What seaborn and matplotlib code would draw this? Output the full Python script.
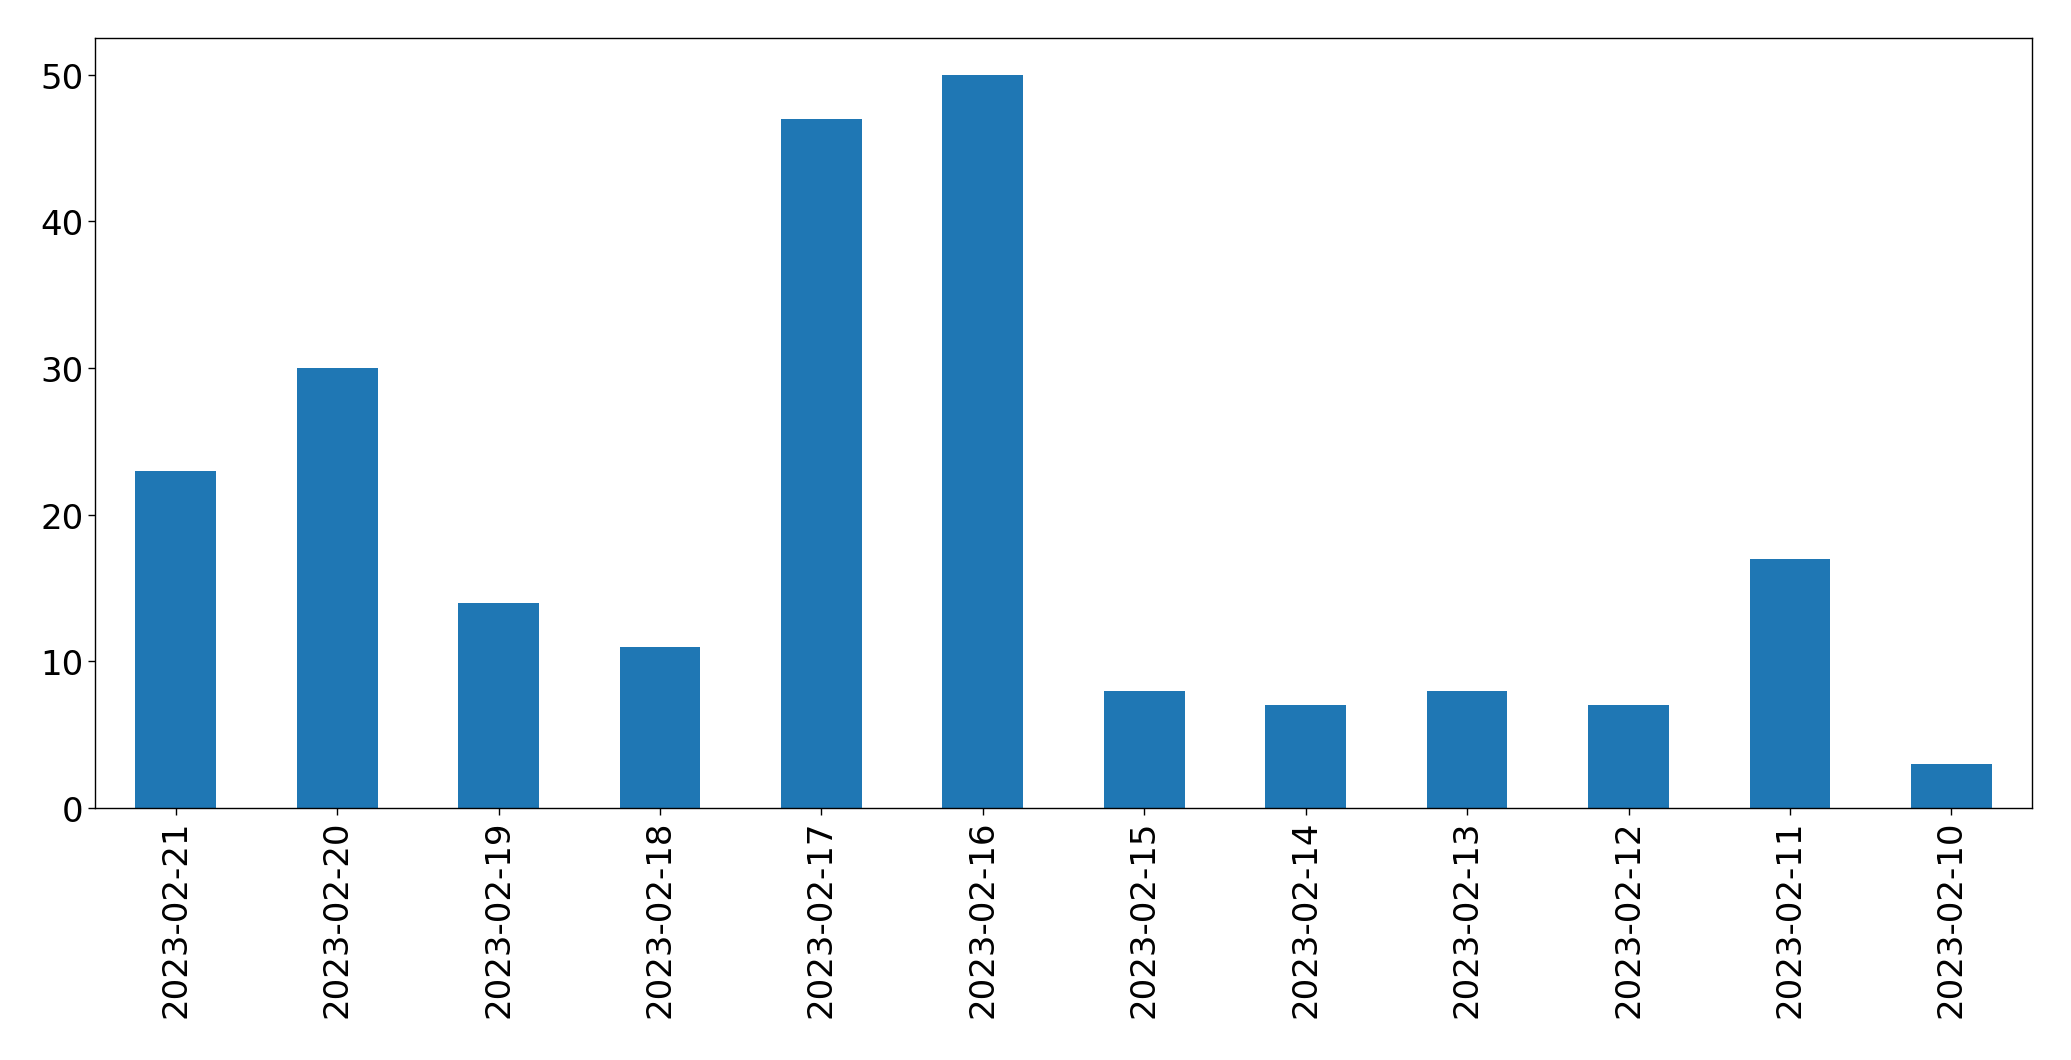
import matplotlib
matplotlib.use("Agg")
import matplotlib.pyplot as plt
import seaborn as sns
import pandas as pd

# data
dates = ["2023-02-21", "2023-02-20", "2023-02-19", "2023-02-18", "2023-02-17", "2023-02-16",
         "2023-02-15", "2023-02-14", "2023-02-13", "2023-02-12", "2023-02-11", "2023-02-10"]
counts = [23, 30, 14, 11, 47, 50, 8, 7, 8, 7, 17, 3]

df = pd.DataFrame({"date": dates, "count": counts})

sns.set_style("white")
plt.rcParams['font.family'] = ['DejaVu Sans']

fig = plt.figure(figsize=(20.71, 10.609), dpi=100)
ax = fig.add_axes([0.0459, 0.2375, 0.9353, 0.7258])

sns.barplot(data=df, x="date", y="count", color="#1f77b4", saturation=1,
            width=0.5, ax=ax, order=dates, linewidth=0, edgecolor="none")

ax.set_xlim(-0.5, len(dates) - 0.5)
ax.set_ylim(0, max(counts) * 1.05)
ax.set_yticks([0, 10, 20, 30, 40, 50])
ax.set_xlabel("")
ax.set_ylabel("")
ax.tick_params(axis="both", labelsize=24.5, length=5, width=1, direction="out",
               left=True, bottom=True, colors="black", labelcolor="black")
ax.tick_params(axis="x", labelrotation=90)
for s in ax.spines.values():
    s.set_visible(True)
    s.set_color("black")
    s.set_linewidth(1)

fig.savefig("out.png", dpi=100)
